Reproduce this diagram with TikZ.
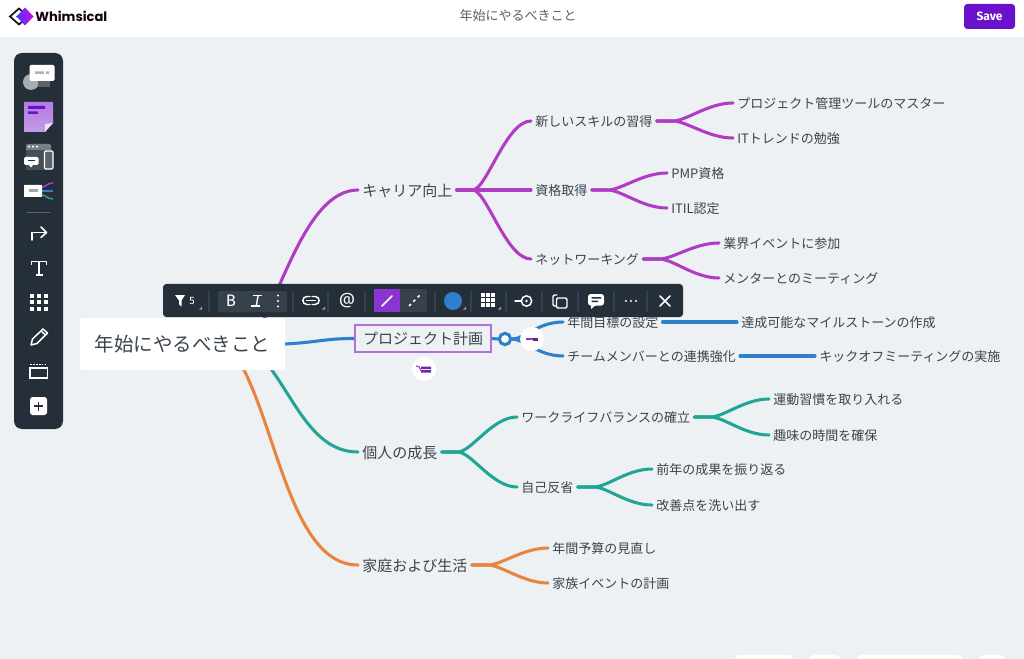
\documentclass[tikz,border=0pt]{standalone}
\usepackage{fontspec}
\setmainfont{Noto Sans CJK JP}
\newfontfamily\logofont{Poppins}
\newfontfamily\uifont{Fira Sans}
\newfontfamily\serifui{Liberation Serif}
\usetikzlibrary{calc}
\pgfdeclarelayer{conn}
\pgfsetlayers{conn,main}
\definecolor{canvas}{HTML}{EDF1F4}
\definecolor{bar}{HTML}{252F3A}
\definecolor{barlite}{HTML}{36414C}
\definecolor{ink}{HTML}{3A444E}
\definecolor{cpurple}{HTML}{B03CC4}
\definecolor{cblue}{HTML}{2F7FCB}
\definecolor{cteal}{HTML}{21A594}
\definecolor{corange}{HTML}{E8843F}
\definecolor{accent}{HTML}{8A35D0}
\definecolor{savec}{HTML}{6A12CB}
\tikzset{
  x=0.75pt,y=-0.75pt,
  lab/.style={anchor=west,inner xsep=3pt,inner ysep=0pt,text=ink,font=\fontsize{9.75}{11}\selectfont,text height=9.4pt,text depth=0.7pt},
  top/.style={anchor=west,inner xsep=3pt,inner ysep=0pt,text=ink,font=\fontsize{11.25}{13}\selectfont,text height=10.6pt,text depth=0.9pt},
  link/.style={line width=2.3pt,line cap=round},
  ic/.style={draw=white,line width=1.1pt,line cap=round,line join=round},
  sep/.style={draw=barlite,line width=0.8pt},
  hint/.style={fill=white!55!bar,draw=none},
  roundbtn/.style={circle,fill=white,minimum size=18pt,inner sep=0pt},
}
\newcommand{\conn}[3]{\draw[link,#1] (#2.east) -- ++(16,0) .. controls +(14,0) and ($(#3.west)+(-25,0)$) .. (#3.west);}
\begin{document}
\begin{tikzpicture}
\useasboundingbox (0,0) rectangle (1024,659);
\begin{pgfonlayer}{conn}
  \fill[canvas] (0,0) rectangle (1024,659);
  \fill[white] (0,0) rectangle (1024,37);
\end{pgfonlayer}
% header
\node[text=ink!85!white,font=\fontsize{9.75}{11}\selectfont] (title) at (518,16) {年始にやるべきこと};
\node[fill=savec,rounded corners=2.5pt,minimum width=38.25pt,minimum height=18.75pt,inner sep=0pt,text=white,font=\uifont\bfseries\fontsize{9}{10}\selectfont] (save) at (989.5,16.5) {Save};
\draw[black!90,line width=1.3pt,line join=miter] (19,8.5) -- (10,16.5) -- (19,24.5) -- (28,16.5) -- cycle;
\shade[left color=blue!75!white,right color=magenta!70!violet] (25,7.5) -- (33.5,16.5) -- (25,25.5) -- (16.5,16.5) -- cycle;
\node[anchor=west,inner sep=0pt,text=black!85!violet,font=\logofont\bfseries\fontsize{9.8}{12}\selectfont] (logo) at (35,16) {Whimsical};
% mind map nodes
\node[fill=white,rounded corners=2pt,minimum width=153.75pt,minimum height=39pt,inner sep=0pt,text=ink,font=\fontsize{14.6}{17}\selectfont] (root) at (182.5,344) {年始にやるべきこと};
\coordinate (rootfork) at (250,345);
\coordinate (rootfork2) at (228,345);
\node[top] (career) at (358,190) {キャリア向上};
\node[draw=accent!70!white,line width=1.1pt,minimum width=102pt,minimum height=20pt,inner sep=0pt,text=ink,font=\fontsize{11.25}{13}\selectfont] (proj) at (423,338.5) {プロジェクト計画};
\node[top] (growth) at (358,452) {個人の成長};
\node[top] (family) at (358,565) {家庭および生活};
\node[lab] (skill) at (531,121) {新しいスキルの習得};
\node[lab] (pm) at (733,103) {プロジェクト管理ツールのマスター};
\node[lab] (it) at (733,138) {ITトレンドの勉強};
\node[lab] (cert) at (531,190) {資格取得};
\node[lab] (pmp) at (667,173) {PMP資格};
\node[lab] (itil) at (667,208) {ITIL認定};
\node[lab] (net) at (531,259) {ネットワーキング};
\node[lab] (event) at (719,243) {業界イベントに参加};
\node[lab] (mentor) at (719,278) {メンターとのミーティング};
\node[lab] (goal) at (563,322) {年間目標の設定};
\node[lab] (mile) at (737,322) {達成可能なマイルストーンの作成};
\node[lab] (team) at (563,356) {チームメンバーとの連携強化};
\node[lab] (kick) at (815,356) {キックオフミーティングの実施};
\node[lab] (wlb) at (517,417) {ワークライフバランスの確立};
\node[lab] (sport) at (769,399) {運動習慣を取り入れる};
\node[lab] (hobby) at (769,435) {趣味の時間を確保};
\node[lab] (refl) at (517,487) {自己反省};
\node[lab] (prev) at (652,469) {前年の成果を振り返る};
\node[lab] (impr) at (652,505) {改善点を洗い出す};
\node[lab] (budget) at (548,548) {年間予算の見直し};
\node[lab] (fam) at (548,583) {家族イベントの計画};
\node[circle,draw=cblue,line width=2.3pt,fill=white,minimum size=8.5pt,inner sep=0pt] (fold) at (505,339) {};
\node[roundbtn] (minus) at (532,339) {};
\node[roundbtn] (addbtn) at (424,369) {};
\begin{pgfonlayer}{conn}
  \draw[link,cpurple] (rootfork) .. controls (280,300) and (305,190) .. (career.west);
  \draw[link,cteal] (rootfork) .. controls (290,380) and (305,452) .. (growth.west);
  \draw[link,corange] (rootfork2) .. controls (275,400) and (285,565) .. (family.west);
  \draw[link,cblue] (root.east) .. controls (320,342) and (325,338.5) .. (proj.west);
  \conn{cpurple}{career}{skill}
  \conn{cpurple}{career}{cert}
  \conn{cpurple}{career}{net}
  \conn{cpurple}{skill}{pm}
  \conn{cpurple}{skill}{it}
  \conn{cpurple}{cert}{pmp}
  \conn{cpurple}{cert}{itil}
  \conn{cpurple}{net}{event}
  \conn{cpurple}{net}{mentor}
  \draw[link,cblue] (proj.east) -- (fold.west);
  \draw[link,cblue] (fold.east) .. controls +(12,0) and +(-25,0) .. (goal.west);
  \draw[link,cblue] (fold.east) .. controls +(12,0) and +(-25,0) .. (team.west);
  \draw[link,cblue] (goal.east) -- (mile.west);
  \draw[link,cblue] (team.east) -- (kick.west);
  \conn{cteal}{growth}{wlb}
  \conn{cteal}{growth}{refl}
  \conn{cteal}{wlb}{sport}
  \conn{cteal}{wlb}{hobby}
  \conn{cteal}{refl}{prev}
  \conn{cteal}{refl}{impr}
  \conn{corange}{family}{budget}
  \conn{corange}{family}{fam}
\end{pgfonlayer}
% round button glyphs
\fill[accent] (526,338) rectangle (533,340);
\fill[cpurple!60!black] (533,337.5) rectangle (538,340.5);
\fill[accent!80!black] (421,366.5) rectangle (431,369) (421,370) rectangle (431,372.5);
\draw[cpurple,line width=0.9pt] (416,366) .. controls (419,366) .. (421,371);
% sidebar
\fill[bar,rounded corners=6pt] (14,53) rectangle (63,429);
\fill[white!60!bar] (31,82) circle (8);
\fill[white!25!bar] (38,79) rectangle (50,87);
\fill[white,rounded corners=1pt] (29.5,65) rectangle (54.5,81);
\fill[black!30] (35,71.5) rectangle (44,74) (46,71.5) rectangle (49,74);
\shade[top color=accent!65!white,bottom color=accent!50!white] (24,102) -- (53,102) -- (53,123) -- (45,132) -- (24,132) -- cycle;
\fill[white!85!accent] (53,123) -- (45,132) -- (45,124) -- cycle;
\fill[savec] (28,106) rectangle (45,109) (28,111.5) rectangle (38,114);
\fill[white!38!bar,rounded corners=1pt] (26,144) rectangle (51,170);
\fill[white!15!bar] (26,150) rectangle (51,170);
\fill[white] (28,146) rectangle (30,147.5) (32,146) rectangle (34,147.5) (36,146) rectangle (38,147.5);
\draw[white,fill=white!25!bar,line width=0.9pt,rounded corners=1pt] (44.5,151) rectangle (53,169);
\fill[white,rounded corners=1pt] (24,157) rectangle (38.5,165);
\fill[white] (29,165) -- (33,165) -- (31,167.5) -- cycle;
\fill[bar] (27.5,160) rectangle (35,161.5);
\draw[cpurple,line width=1.1pt] (42,187) .. controls (46,187) and (47,183) .. (53,183);
\draw[cblue,line width=1.1pt] (42,191) -- (53,191);
\draw[cteal,line width=1.1pt] (42,195) .. controls (46,195) and (47,199) .. (53,199);
\fill[white,rounded corners=0.5pt] (24,185) rectangle (42,197);
\fill[black!35] (28.5,189.5) rectangle (37.5,192.5);
\draw[white!25!bar,line width=0.7pt] (27,212) -- (50,212);
\draw[ic,line width=1.2pt] (32,240) -- (32,232.5) -- (45.5,232.5);
\draw[ic,line width=1.2pt] (41,227) -- (46.5,232.5) -- (41,237.5);
\draw[ic,line width=1.2pt,line cap=butt] (31.5,265) -- (31.5,261.5) -- (46.5,261.5) -- (46.5,265) (39,261.5) -- (39,275) (35.5,275) -- (42.5,275);
\foreach \gx in {32,39,46} \foreach \gy in {296,302,309} \fill[white] (\gx-1.8,\gy-1.8) rectangle (\gx+1.8,\gy+1.8);
\draw[ic,line width=1.1pt] (31,345) -- (32.5,339) -- (43,329) -- (47.5,333) -- (37,343.5) -- cycle (41,331) -- (45.5,335);
\draw[white,line width=1.1pt] (30,368) rectangle (47.5,378);
\draw[white,line width=0.9pt,dash pattern=on 1.3pt off 0.9pt] (30,364.5) -- (47.5,364.5);
\fill[white,rounded corners=2pt] (30,397) rectangle (47,415);
\draw[bar,line width=1.3pt] (34,406) -- (43,406) (38.5,401.5) -- (38.5,410.5);
% toolbar
\fill[bar,rounded corners=2.5pt] (163,284) rectangle (683,317);
\fill[barlite,rounded corners=1.5pt] (218,291) rectangle (287,312);
\fill[accent] (373.5,289) rectangle (400,312);
\fill[barlite] (400,289) rectangle (427,312);
\foreach \sx in {209,293,328,365,435,471,506,542,578,614,647} \draw[sep] (\sx,291) -- (\sx,312);
\fill[white] (175,295) -- (185,295) -- (181.5,300.5) -- (181.5,306.5) -- (179,304.5) -- (179,300.5) -- cycle;
\node[text=white,inner sep=0pt,font=\uifont\fontsize{8}{9}\selectfont] (fcount) at (192,300.5) {5};
\node[text=white,inner sep=0pt,font=\uifont\fontsize{12.5}{13}\selectfont] (bold) at (231,301) {B};
\node[text=white,inner sep=0pt,font=\serifui\itshape\fontsize{12}{12}\selectfont] (ital) at (257,301) {I};
\draw[white,line width=0.8pt] (252.5,295.5) -- (261.5,295.5) (251,306) -- (260,306);
\foreach \dy in {295.5,301,306.5} \fill[white] (278,\dy) circle (1.2);
\draw[ic] (310,296.5) -- (307,296.5) .. controls (301.5,296.5) and (301.5,304.5) .. (307,304.5) -- (310,304.5);
\draw[ic] (312,296.5) -- (315,296.5) .. controls (320.5,296.5) and (320.5,304.5) .. (315,304.5) -- (312,304.5);
\draw[ic] (306.5,300.5) -- (315.5,300.5);
\node[text=white,inner sep=0pt,font=\uifont\fontsize{12}{12}\selectfont] (at) at (347,300.5) {@};
\draw[white,line width=1.3pt,line cap=round] (382,306) -- (392,296);
\draw[white,line width=1.3pt,dash pattern=on 2pt off 2.6pt] (409,306) -- (420,295);
\fill[cblue] (453,301) circle (9);
\foreach \gx in {483,488,493} \foreach \gy in {295,300,305} \fill[white] (\gx-2,\gy-2) rectangle (\gx+2,\gy+2);
\draw[ic] (515,301) -- (521,301);
\draw[ic] (526.5,301) circle (5.2);
\fill[white] (526.5,301) circle (1.3);
\draw[ic,rounded corners=1pt] (557,295) -- (553,295) -- (553,306) -- (556,306);
\draw[ic,rounded corners=1pt] (556.5,298) rectangle (567,308);
\fill[white,rounded corners=2pt] (588,294) rectangle (604,305.5);
\fill[white] (591,305) -- (591,309) -- (596,305) -- cycle;
\fill[bar] (591.5,297) rectangle (601,298.5) (591.5,300.5) rectangle (598,302);
\foreach \dx in {626,631,636} \fill[white] (\dx,301) circle (1.2);
\draw[ic,line width=1.3pt] (660,296) -- (670,306) (670,296) -- (660,306);
\foreach \tx in {199,322,463,498} \fill[hint] (\tx,309.5) -- (\tx+3,309.5) -- (\tx+3,306.5) -- cycle;
% bottom corner controls
\fill[white,rounded corners=3pt] (735,655) rectangle (793,670);
\fill[white,rounded corners=3pt] (810,655) rectangle (840,670);
\fill[white,rounded corners=3pt] (857,655) rectangle (962,670);
\fill[white,rounded corners=5pt] (978,655) rectangle (1005,670);
\end{tikzpicture}
\end{document}
